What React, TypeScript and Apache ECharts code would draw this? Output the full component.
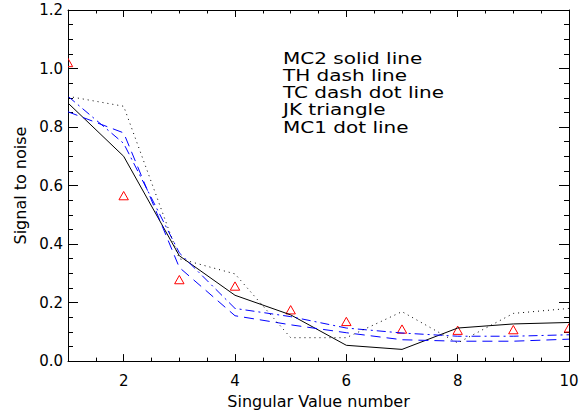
import React, { useEffect, useRef } from "react";
import * as echarts from "echarts";

// Singular value index (x) and signal-to-noise values
const singularValues = [1, 2, 3, 4, 5, 6, 7, 8, 9, 10];
const mc2Solid = [0.882, 0.7, 0.36, 0.225, 0.158, 0.054, 0.04, 0.113, 0.127, 0.132];
const thDash = [0.852, 0.78, 0.32, 0.155, 0.124, 0.097, 0.073, 0.068, 0.068, 0.075];
const tcDashDot = [0.905, 0.744, 0.37, 0.18, 0.152, 0.113, 0.096, 0.085, 0.085, 0.09];
const jkTriangle = [1.02, 0.565, 0.278, 0.256, 0.175, 0.135, 0.109, 0.105, 0.107, 0.113];
const mc1Dot = [0.905, 0.871, 0.35, 0.298, 0.08, 0.08, 0.169, 0.062, 0.163, 0.18];

const legendLines = [
  "MC2 solid line",
  "TH dash line",
  "TC dash dot line",
  "JK triangle",
  "MC1 dot line",
];

const xTitle = "Singular Value number";
const yTitle = "Signal to noise";

const FONT = "DejaVu Sans";

const pairs = (ys: number[]) => singularValues.map((x, i) => [x, ys[i]]);

export default function App() {
  const ref = useRef<HTMLDivElement>(null);

  useEffect(() => {
    if (!ref.current) return;
    const chart = echarts.init(ref.current, null, { renderer: "svg" });

    const lineAxis = { show: true, onZero: false, lineStyle: { color: "#000", width: 1 } };
    const noLine = { show: false, onZero: false };

    const option: any = {
      animation: false,
      backgroundColor: "#fff",
      textStyle: { fontFamily: FONT },
      grid: { left: 68, right: 13, top: 10, bottom: 49, containLabel: false },
      xAxis: [
        {
          type: "value",
          position: "bottom",
          min: 1,
          max: 10,
          interval: 0.5,
          axisLine: lineAxis,
          axisTick: { show: true, inside: true, length: 3.5, lineStyle: { color: "#000" } },
          axisLabel: {
            show: true,
            margin: 12,
            fontSize: 15,
            color: "#000",
            fontFamily: FONT,
            formatter: (v: number) => (v % 2 === 0 ? String(v) : ""),
          },
          splitLine: { show: false },
          name: xTitle,
          nameLocation: "middle",
          nameGap: 31,
          nameTextStyle: { fontSize: 16, color: "#000", fontFamily: FONT },
        },
        {
          type: "value",
          position: "bottom",
          min: 1,
          max: 10,
          axisLine: noLine,
          axisTick: { show: true, inside: true, length: 7, lineStyle: { color: "#000" } },
          axisLabel: { show: false },
          splitLine: { show: false },
        },
        {
          type: "value",
          position: "top",
          min: 1,
          max: 10,
          interval: 0.5,
          axisLine: lineAxis,
          axisTick: { show: true, inside: true, length: 3.5, lineStyle: { color: "#000" } },
          axisLabel: { show: false },
          splitLine: { show: false },
        },
        {
          type: "value",
          position: "top",
          min: 1,
          max: 10,
          axisLine: noLine,
          axisTick: { show: true, inside: true, length: 7, lineStyle: { color: "#000" } },
          axisLabel: { show: false },
          splitLine: { show: false },
        },
      ],
      yAxis: [
        {
          type: "value",
          position: "left",
          min: 0,
          max: 1.2,
          interval: 0.2,
          axisLine: lineAxis,
          axisTick: { show: true, inside: true, length: 10, lineStyle: { color: "#000" } },
          minorTick: { show: true, splitNumber: 4, length: 5, lineStyle: { color: "#000" } },
          axisLabel: {
            show: true,
            margin: 5,
            fontSize: 15,
            color: "#000",
            fontFamily: FONT,
            formatter: (v: number) => v.toFixed(1),
          },
          splitLine: { show: false },
          minorSplitLine: { show: false },
          name: yTitle,
          nameLocation: "middle",
          nameGap: 32,
          nameTextStyle: { fontSize: 16, color: "#000", fontFamily: FONT },
        },
        {
          type: "value",
          position: "right",
          min: 0,
          max: 1.2,
          interval: 0.2,
          axisLine: lineAxis,
          axisTick: { show: true, inside: true, length: 10, lineStyle: { color: "#000" } },
          minorTick: { show: true, splitNumber: 4, length: 5, lineStyle: { color: "#000" } },
          axisLabel: { show: false },
          splitLine: { show: false },
          minorSplitLine: { show: false },
        },
      ],
      series: [
        {
          name: "MC2",
          type: "line",
          data: pairs(mc2Solid),
          symbol: "none",
          clip: true,
          lineStyle: { color: "#000", width: 1, type: "solid" },
        },
        {
          name: "TH",
          type: "line",
          data: pairs(thDash),
          symbol: "none",
          clip: true,
          lineStyle: { color: "#0000ff", width: 1, type: [10, 6] },
        },
        {
          name: "TC",
          type: "line",
          data: pairs(tcDashDot),
          symbol: "none",
          clip: true,
          lineStyle: { color: "#0000ff", width: 1, type: [9, 4, 2, 4] },
        },
        {
          name: "MC1",
          type: "line",
          data: pairs(mc1Dot),
          symbol: "none",
          clip: true,
          lineStyle: { color: "#000", width: 1, type: [1, 4] },
        },
        {
          name: "JK",
          type: "custom",
          clip: true,
          data: pairs(jkTriangle),
          renderItem: (params: any, api: any) => {
            const p = api.coord([api.value(0), api.value(1)]);
            return {
              type: "polygon",
              shape: {
                points: [
                  [p[0], p[1] - 4.3],
                  [p[0] + 4.7, p[1] + 4],
                  [p[0] - 4.7, p[1] + 4],
                ],
              },
              style: { fill: "none", stroke: "#ff0000", lineWidth: 1 },
            };
          },
        },
      ],
      graphic: legendLines.map((t, i) => ({
        type: "text",
        x: 283,
        y: 58 + i * 17.2,
        scaleX: 1.25,
        style: {
          text: t,
          fontSize: 16,
          fontFamily: FONT,
          fill: "#000",
          align: "left",
          verticalAlign: "middle",
        },
      })),
    };

    chart.setOption(option);
    return () => chart.dispose();
  }, []);

  return (
    <div
      ref={ref}
      style={{ position: "fixed", left: 0, top: 0, width: 582, height: 414, background: "#fff" }}
    />
  );
}
